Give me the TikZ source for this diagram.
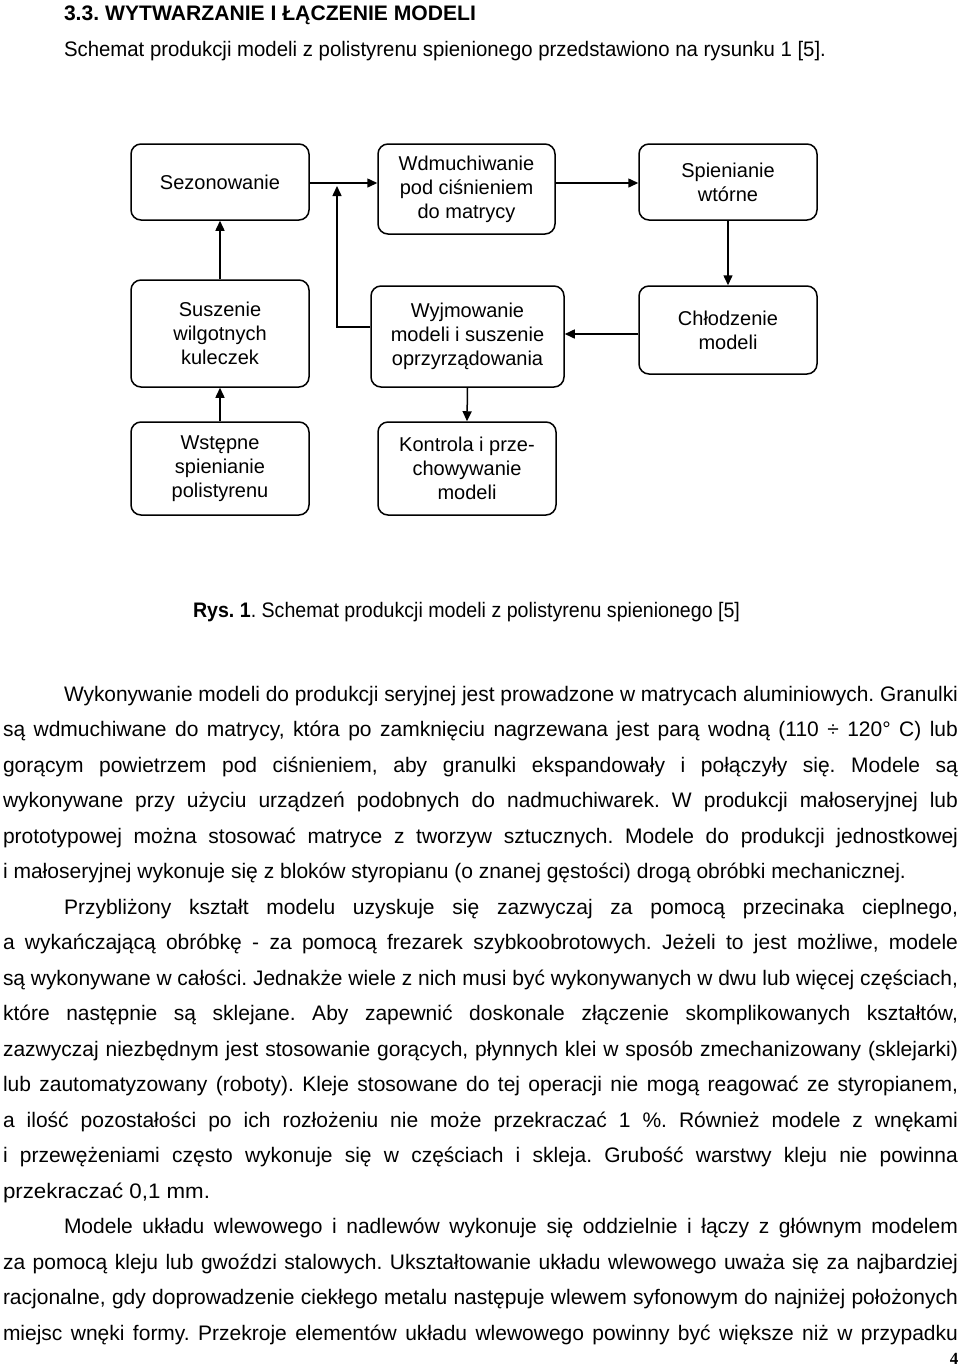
\documentclass[tikz,border=0pt]{standalone}
\usepackage{fontspec}
\setmainfont{Liberation Sans}
\newfontfamily\pagenumfont{Liberation Serif}
\usepackage{graphicx}
\usetikzlibrary{arrows.meta,calc}
\frenchspacing
\newsavebox\lbox
% justified line: stretch spaces if short, squeeze if too long
\newcommand\fitj[2]{\sbox\lbox{#2}\ifdim\wd\lbox>#1pt\relax\resizebox{#1pt}{\height}{\usebox\lbox}\else\makebox[#1pt][s]{#2}\fi}
% plain line scaled to width
\newcommand\fits[2]{\resizebox{#1pt}{\height}{#2}}
\tikzset{
  box/.style={draw, line width=1.5pt, rounded corners=10pt, align=center,
    inner sep=0pt, font=\fontsize{20}{24}\selectfont},
  arr/.style={line width=1.5pt, -{Triangle[length=10pt,width=9pt]}},
  txt/.style={anchor=base west, inner sep=0pt, outer sep=0pt, font=\fontsize{21}{24}\selectfont},
}
\begin{document}
\begin{tikzpicture}[x=1pt,y=-1pt]
\useasboundingbox (0,0) rectangle (960,1366);
\fill[white] (0,0) rectangle (960,1366);

% header
\node[txt,font=\fontsize{21}{24}\selectfont\bfseries] (h1) at (64,20) {\fits{412}{3.3. WYTWARZANIE I ŁĄCZENIE MODELI}};
\node[txt] (h2) at (64,56) {\fits{762}{Schemat produkcji modeli z polistyrenu spienionego przedstawiono na rysunku 1 [5].}};

% boxes
\node[box, minimum width=178pt, minimum height=76pt] (sez) at (220,182) {Sezonowanie};
\node[box, minimum width=177pt, minimum height=90pt] (wdm) at (466.5,189) {Wdmuchiwanie\\pod ciśnieniem\\do matrycy};
\node[box, minimum width=178pt, minimum height=76pt] (spi) at (728,182) {Spienianie\\wtórne};
\node[box, minimum width=178pt, minimum height=107pt] (sus) at (220,333.5) {Suszenie\\wilgotnych\\kuleczek};
\node[box, minimum width=193pt, minimum height=101pt] (wyj) at (467.5,336.5) {Wyjmowanie\\modeli i suszenie\\oprzyrządowania};
\node[box, minimum width=178pt, minimum height=88pt] (chl) at (728,330) {Chłodzenie\\modeli};
\node[box, minimum width=178pt, minimum height=93pt] (wst) at (220,468.5) {Wstępne\\spienianie\\polistyrenu};
\node[box, minimum width=178pt, minimum height=93pt] (kon) at (467,468.5) {Kontrola i prze-\\chowywanie\\modeli};

% connectors
\coordinate (jt) at (337,186);
\draw[arr] (sez.east |- {(0,183)}) -- (wdm.west |- {(0,183)});
\draw[arr] (wdm.east |- {(0,183)}) -- (spi.west |- {(0,183)});
\draw[arr] (spi.south) -- (chl.north);
\draw[arr] (chl.west |- {(0,334)}) -- (wyj.east |- {(0,334)});
\draw[arr] (wyj.west |- {(0,327)}) -| (jt);
\draw[arr] (sus.north) -- (sez.south);
\draw[arr] (wst.north) -- (sus.south);
\draw[arr] (wyj.south) -- (kon.north);

% caption
\node[txt] (cap) at (193,617) {\fits{547}{\textbf{Rys. 1}. Schemat produkcji modeli z polistyrenu spienionego [5]}};

% body text
\node[txt] (l1) at (64,701) {\fitj{894}{Wykonywanie modeli do produkcji seryjnej jest prowadzone w matrycach aluminiowych. Granulki}};
\node[txt] (l2) at (3,736.5) {\fitj{955}{są wdmuchiwane do matrycy, która po zamknięciu nagrzewana jest parą wodną (110 ÷ 120° C) lub}};
\node[txt] (l3) at (3,772) {\fitj{955}{gorącym powietrzem pod ciśnieniem, aby granulki ekspandowały i połączyły się. Modele są}};
\node[txt] (l4) at (3,807.5) {\fitj{955}{wykonywane przy użyciu urządzeń podobnych do nadmuchiwarek. W produkcji małoseryjnej lub}};
\node[txt] (l5) at (3,843) {\fitj{955}{prototypowej można stosować matryce z tworzyw sztucznych. Modele do produkcji jednostkowej}};
\node[txt] (l6) at (3,878.5) {\fits{903}{i małoseryjnej wykonuje się z bloków styropianu (o znanej gęstości) drogą obróbki mechanicznej.}};
\node[txt] (l7) at (64,914) {\fitj{894}{Przybliżony kształt modelu uzyskuje się zazwyczaj za pomocą przecinaka cieplnego,}};
\node[txt] (l8) at (3,949.5) {\fitj{955}{a wykańczającą obróbkę - za pomocą frezarek szybkoobrotowych. Jeżeli to jest możliwe, modele}};
\node[txt] (l9) at (3,985) {\fitj{955}{są wykonywane w całości. Jednakże wiele z nich musi być wykonywanych w dwu lub więcej częściach,}};
\node[txt] (l10) at (3,1020.5) {\fitj{955}{które następnie są sklejane. Aby zapewnić doskonale złączenie skomplikowanych kształtów,}};
\node[txt] (l11) at (3,1056) {\fitj{955}{zazwyczaj niezbędnym jest stosowanie gorących, płynnych klei w sposób zmechanizowany (sklejarki)}};
\node[txt] (l12) at (3,1091.5) {\fitj{955}{lub zautomatyzowany (roboty). Kleje stosowane do tej operacji nie mogą reagować ze styropianem,}};
\node[txt] (l13) at (3,1127) {\fitj{955}{a ilość pozostałości po ich rozłożeniu nie może przekraczać 1 \%. Również modele z wnękami}};
\node[txt] (l14) at (3,1162.5) {\fitj{955}{i przewężeniami często wykonuje się w częściach i skleja. Grubość warstwy kleju nie powinna}};
\node[txt] (l15) at (3,1198) {\fits{207}{przekraczać 0,1 mm.}};
\node[txt] (l16) at (64,1233.5) {\fitj{894}{Modele układu wlewowego i nadlewów wykonuje się oddzielnie i łączy z głównym modelem}};
\node[txt] (l17) at (3,1269) {\fitj{955}{za pomocą kleju lub gwoździ stalowych. Ukształtowanie układu wlewowego uważa się za najbardziej}};
\node[txt] (l18) at (3,1304.5) {\fitj{955}{racjonalne, gdy doprowadzenie ciekłego metalu następuje wlewem syfonowym do najniżej położonych}};
\node[txt] (l19) at (3,1340) {\fitj{955}{miejsc wnęki formy. Przekroje elementów układu wlewowego powinny być większe niż w przypadku}};

% page number
\node[anchor=base, inner sep=0pt, font=\fontsize{17}{20}\pagenumfont\bfseries] (pn) at (954,1364) {4};
\end{tikzpicture}
\end{document}
